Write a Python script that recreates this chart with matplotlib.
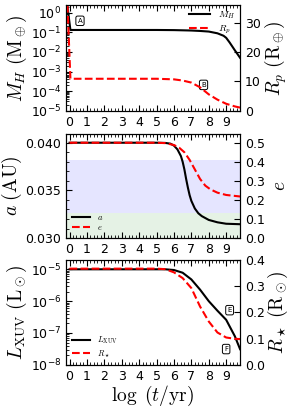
import matplotlib
matplotlib.use("Agg")
import matplotlib.pyplot as plt
from matplotlib.ticker import LogLocator, NullFormatter, MultipleLocator

plt.rcParams['mathtext.fontset'] = 'cm'
plt.rcParams['xtick.direction'] = 'in'
plt.rcParams['ytick.direction'] = 'in'
plt.rcParams['xtick.labelsize'] = 9
plt.rcParams['ytick.labelsize'] = 9

# panel 1: hydrogen envelope mass and planet radius
t_mh = [-0.12, 0.05, 5.0, 6.0, 7.0, 7.5, 8.0, 8.5, 8.85, 9.0, 9.2, 9.5, 9.8]
m_h = [2.0, 0.13, 0.13, 0.128, 0.122, 0.116, 0.108, 0.088, 0.066, 0.052, 0.03, 0.012, 0.005]
t_rp = [-0.12, 0.05, 5.0, 6.0, 6.5, 7.0, 7.5, 8.0, 8.5, 9.0, 9.5, 9.8]
r_p = [36.0, 10.9, 10.9, 10.7, 10.3, 9.6, 8.0, 5.6, 3.8, 2.4, 1.5, 1.1]

# panel 2: semi-major axis and eccentricity
t_a = [0.0, 5.0, 5.5, 5.8, 6.0, 6.2, 6.4, 6.5, 6.6, 6.7, 6.8, 6.9, 7.0, 7.2, 7.4, 7.6, 7.8,
       8.0, 8.5, 9.0, 9.8]
a_au = [0.0400, 0.0400, 0.03998, 0.0399, 0.0397, 0.0393, 0.0386, 0.0380, 0.0372, 0.0362,
        0.0353, 0.0345, 0.0339, 0.0331, 0.0326, 0.0323, 0.0321, 0.0319, 0.03165, 0.0315,
        0.03145]
t_e = [0.0, 5.0, 5.5, 6.0, 6.3, 6.6, 6.9, 7.2, 7.5, 7.8, 8.1, 8.5, 9.0, 9.8]
ecc = [0.5, 0.5, 0.498, 0.488, 0.474, 0.45, 0.41, 0.36, 0.31, 0.275, 0.255, 0.238, 0.226, 0.218]

# panel 3: stellar XUV luminosity and stellar radius
t_star = [0.0, 5.0, 5.5, 6.0, 6.5, 7.0, 7.5, 8.0, 8.5, 9.0, 9.5, 9.8]
l_xuv = [1e-5, 1e-5, 1e-5, 9.5e-6, 7.8e-6, 4.8e-6, 2.3e-6, 1.0e-6, 5.0e-7, 2.6e-7, 7.9e-8, 3.1e-8]
r_star = [0.366, 0.366, 0.364, 0.352, 0.33, 0.292, 0.222, 0.165, 0.123, 0.104, 0.099, 0.098]

fig = plt.figure(figsize=(2.91, 4.09), dpi=100)

def style_x(ax):
    ax.set_xlim(-0.2, 9.8)
    ax.set_xticks(range(10))
    ax.xaxis.set_minor_locator(MultipleLocator(0.2))
    ax.tick_params(axis='x', which='both', top=True)
    ax.tick_params(which='major', length=4)
    ax.tick_params(which='minor', length=2)

def log_y(ax):
    ax.yaxis.set_major_locator(LogLocator(base=10, numticks=12))
    ax.yaxis.set_minor_locator(LogLocator(base=10, subs=range(2, 10), numticks=12))
    ax.yaxis.set_minor_formatter(NullFormatter())

def box(ax, x, y, s):
    ax.text(x, y, s, transform=ax.transAxes, fontsize=5, ha='center', va='center',
            bbox=dict(boxstyle='round,pad=0.25', fc='white', ec='black', lw=0.7))

# ---- panel 1
ax1 = fig.add_axes([0.227, 0.729, 0.598, 0.259])
l1, = ax1.semilogy(t_mh, m_h, c='k', lw=1.5)
ax1.set_ylim(1e-5, 2.45)
log_y(ax1)
style_x(ax1)
ax1.set_ylabel(r'$M_H\ (\mathrm{M}_\oplus)$', fontsize=14, labelpad=1)
ax1r = ax1.twinx()
l2, = ax1r.plot(t_rp, r_p, c='r', ls='--', lw=1.5)
ax1r.set_ylim(0, 36)
ax1r.set_yticks([0, 10, 20, 30])
ax1r.set_ylabel(r'$R_p\ (\mathrm{R}_\oplus)$', fontsize=14, labelpad=1)
ax1r.tick_params(length=4)
ax1.legend([l1, l2], ['$M_H$', '$R_p$'], loc='upper right', fontsize=7, frameon=False,
           handlelength=2.2, borderaxespad=0.1, labelspacing=0.2)
box(ax1, 0.08, 0.85, 'A')
box(ax1, 0.79, 0.245, 'B')

# ---- panel 2
ax2 = fig.add_axes([0.227, 0.418, 0.598, 0.254])
ax2.axhspan(0.03267, 0.03818, color='b', alpha=0.1, lw=0)
ax2.axhspan(0.0299, 0.03267, color='g', alpha=0.1, lw=0)
l3, = ax2.plot(t_a, a_au, c='k', lw=1.5)
ax2.set_ylim(0.030, 0.0409)
ax2.set_yticks([0.030, 0.035, 0.040])
ax2.set_yticklabels(['0.030', '0.035', '0.040'])
ax2.yaxis.set_minor_locator(MultipleLocator(0.001))
style_x(ax2)
ax2.set_ylabel(r'$a\ (\mathrm{AU})$', fontsize=14, labelpad=1)
ax2r = ax2.twinx()
l4, = ax2r.plot(t_e, ecc, c='r', ls='--', lw=1.5)
ax2r.set_ylim(0, 0.545)
ax2r.set_yticks([0.0, 0.1, 0.2, 0.3, 0.4, 0.5])
ax2r.set_ylabel('$e$', fontsize=14, labelpad=4)
ax2r.tick_params(length=4)
ax2.legend([l3, l4], ['$a$', '$e$'], loc='lower left', fontsize=6, frameon=False,
           handlelength=2.2, borderaxespad=0.3, labelspacing=0.2)

# ---- panel 3
ax3 = fig.add_axes([0.227, 0.108, 0.598, 0.257])
l5, = ax3.semilogy(t_star, l_xuv, c='k', lw=1.5)
ax3.set_ylim(1e-8, 2e-5)
log_y(ax3)
style_x(ax3)
ax3.set_ylabel(r'$L_{\mathrm{XUV}}\ (\mathrm{L}_\odot)$', fontsize=14, labelpad=1)
ax3.set_xlabel(r'$\log\ (t/\mathrm{yr})$', fontsize=14, labelpad=1)
ax3r = ax3.twinx()
l6, = ax3r.plot(t_star, r_star, c='r', ls='--', lw=1.5)
ax3r.set_ylim(0, 0.4)
ax3r.set_yticks([0.0, 0.1, 0.2, 0.3, 0.4])
ax3r.set_ylabel(r'$R_\star\ (\mathrm{R}_\odot)$', fontsize=14, labelpad=1)
ax3r.tick_params(length=4)
ax3.legend([l5, l6], [r'$L_{\mathrm{XUV}}$', r'$R_\star$'], loc='lower left', fontsize=6,
           frameon=False, handlelength=2.2, borderaxespad=0.3, labelspacing=0.2)
box(ax3, 0.94, 0.52, 'E')
box(ax3, 0.92, 0.15, 'F')

fig.savefig('out.png', dpi=100)
